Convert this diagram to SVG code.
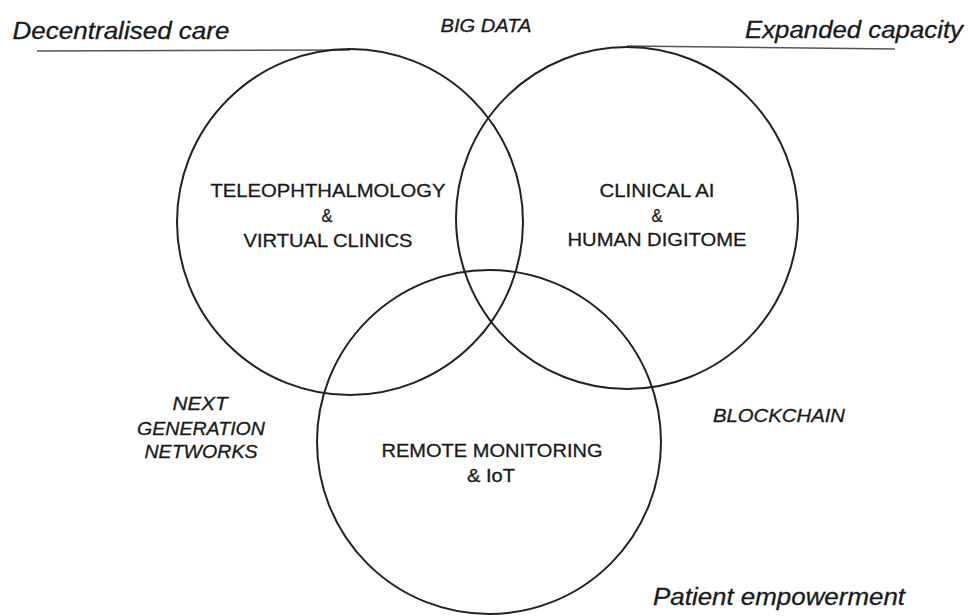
<svg xmlns="http://www.w3.org/2000/svg" width="979" height="616" viewBox="0 0 979 616">
<style>
.c{fill:none;stroke:#222;stroke-width:2}
.ln{stroke:#555;stroke-width:1.5}
.t{font-family:"Liberation Sans",Arial,sans-serif;fill:#1a1a1a;stroke:#1a1a1a;stroke-width:0.3;text-anchor:middle}
.n{font-size:19px}
.i{font-style:italic}
.b{font-size:23.5px}
.s{font-size:18px}
</style>
<rect width="979" height="616" fill="#fff"/>
<g id="connectors">
<line class="ln" x1="37" y1="51" x2="350" y2="50"/>
<line class="ln" x1="627" y1="46" x2="895" y2="49"/>
</g>
<g id="tele">
<circle class="c" cx="350" cy="222" r="173"/>
<text class="t n" x="328" y="197" textLength="235" lengthAdjust="spacingAndGlyphs">TELEOPHTHALMOLOGY</text>
<text class="t n" x="327" y="222" textLength="11" lengthAdjust="spacingAndGlyphs">&amp;</text>
<text class="t n" x="328" y="247" textLength="169" lengthAdjust="spacingAndGlyphs">VIRTUAL CLINICS</text>
</g>
<g id="ai">
<circle class="c" cx="627" cy="218" r="171"/>
<text class="t n" x="657" y="197" textLength="115" lengthAdjust="spacingAndGlyphs">CLINICAL AI</text>
<text class="t n" x="657" y="222" textLength="11" lengthAdjust="spacingAndGlyphs">&amp;</text>
<text class="t n" x="657" y="246" textLength="179" lengthAdjust="spacingAndGlyphs">HUMAN DIGITOME</text>
</g>
<g id="remote">
<circle class="c" cx="489" cy="442" r="172"/>
<text class="t n" x="492" y="457" textLength="221" lengthAdjust="spacingAndGlyphs">REMOTE MONITORING</text>
<text class="t n" x="491" y="482" textLength="48" lengthAdjust="spacingAndGlyphs">&amp; IoT</text>
</g>
<g id="labels">
<text class="t i b" x="121" y="39" textLength="217" lengthAdjust="spacingAndGlyphs">Decentralised care</text>
<text class="t i b" x="854" y="38" textLength="218" lengthAdjust="spacingAndGlyphs">Expanded capacity</text>
<text class="t i b" x="779" y="605" textLength="252" lengthAdjust="spacingAndGlyphs">Patient empowerment</text>
<text class="t i s" x="486" y="32" textLength="91" lengthAdjust="spacingAndGlyphs">BIG DATA</text>
<text class="t i s" x="200" y="410" textLength="55" lengthAdjust="spacingAndGlyphs">NEXT</text>
<text class="t i s" x="201" y="435" textLength="128" lengthAdjust="spacingAndGlyphs">GENERATION</text>
<text class="t i s" x="201" y="458" textLength="113" lengthAdjust="spacingAndGlyphs">NETWORKS</text>
<text class="t i s" x="779" y="422" textLength="132" lengthAdjust="spacingAndGlyphs">BLOCKCHAIN</text>
</g>
</svg>
